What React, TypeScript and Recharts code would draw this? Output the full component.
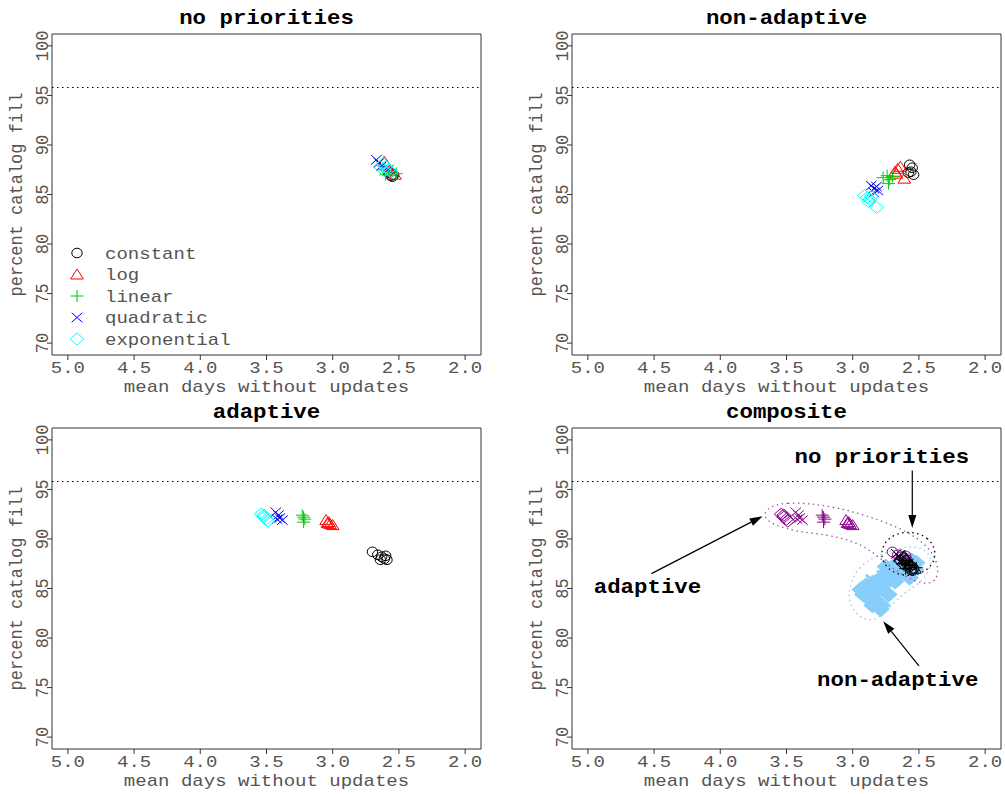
import React from 'react';
import { ScatterChart, Scatter, XAxis, YAxis, ReferenceLine, ReferenceArea } from 'recharts';

type Pt = { x: number; y: number };
type Kind = 'circle' | 'triangle' | 'plus' | 'cross' | 'diamond';

const xTicks = [5.0, 4.5, 4.0, 3.5, 3.0, 2.5, 2.0];
const yTicks = [70, 75, 80, 85, 90, 95, 100];
const xDomain = [1.88, 5.12];
const yDomain = [68.8, 101.2];
const targetFill = 95.8;

const seriesNames = ['constant', 'log', 'linear', 'quadratic', 'exponential'];
const seriesColors = ['#000000', '#FF0000', '#00CD00', '#0000FF', '#00FFFF'];
const seriesShapes: Kind[] = ['circle', 'triangle', 'plus', 'cross', 'diamond'];

// no priorities
const npConstant: Pt[] = [{ x: 2.55, y: 86.8 }, { x: 2.54, y: 87.0 }, { x: 2.57, y: 87.2 }, { x: 2.56, y: 86.9 }];
const npLog: Pt[] = [{ x: 2.61, y: 88.3 }, { x: 2.59, y: 87.9 }, { x: 2.53, y: 87.0 }, { x: 2.57, y: 87.4 }];
const npLinear: Pt[] = [{ x: 2.6, y: 87.0 }, { x: 2.52, y: 87.1 }, { x: 2.57, y: 87.3 }, { x: 2.62, y: 87.5 }];
const npQuadratic: Pt[] = [{ x: 2.67, y: 88.5 }, { x: 2.65, y: 88.2 }, { x: 2.63, y: 87.9 }, { x: 2.58, y: 87.5 }];
const npExponential: Pt[] = [
  { x: 2.62, y: 88.1 }, { x: 2.6, y: 87.8 }, { x: 2.58, y: 87.5 }, { x: 2.56, y: 87.3 }, { x: 2.61, y: 87.4 }, { x: 2.64, y: 87.8 },
];

// non-adaptive
const naConstant: Pt[] = [{ x: 2.57, y: 88.0 }, { x: 2.55, y: 87.7 }, { x: 2.56, y: 87.3 }, { x: 2.54, y: 87.0 }, { x: 2.58, y: 87.2 }];
const naLog: Pt[] = [{ x: 2.68, y: 87.3 }, { x: 2.66, y: 87.6 }, { x: 2.64, y: 87.8 }, { x: 2.67, y: 87.1 }, { x: 2.61, y: 86.6 }];
const naLinear: Pt[] = [{ x: 2.77, y: 86.7 }, { x: 2.74, y: 86.9 }, { x: 2.72, y: 86.5 }, { x: 2.73, y: 86.1 }, { x: 2.7, y: 86.8 }];
const naQuadratic: Pt[] = [{ x: 2.86, y: 85.9 }, { x: 2.84, y: 85.6 }, { x: 2.82, y: 85.8 }, { x: 2.84, y: 85.2 }, { x: 2.81, y: 85.4 }];
const naExponential: Pt[] = [
  { x: 2.91, y: 84.9 }, { x: 2.89, y: 84.7 }, { x: 2.87, y: 84.5 }, { x: 2.86, y: 84.8 }, { x: 2.88, y: 84.3 }, { x: 2.82, y: 83.7 },
];

// adaptive
const adConstant: Pt[] = [
  { x: 2.7, y: 88.7 }, { x: 2.66, y: 88.4 }, { x: 2.63, y: 88.2 }, { x: 2.61, y: 88.0 }, { x: 2.59, y: 87.9 }, { x: 2.64, y: 87.9 }, { x: 2.6, y: 88.3 },
];
const adLog: Pt[] = [{ x: 3.05, y: 91.9 }, { x: 3.03, y: 91.7 }, { x: 3.02, y: 91.5 }, { x: 3.0, y: 91.4 }, { x: 3.04, y: 91.6 }];
const adLinear: Pt[] = [{ x: 3.23, y: 92.4 }, { x: 3.22, y: 92.2 }, { x: 3.21, y: 92.0 }, { x: 3.22, y: 91.7 }];
const adQuadratic: Pt[] = [{ x: 3.43, y: 92.7 }, { x: 3.41, y: 92.4 }, { x: 3.4, y: 92.1 }, { x: 3.38, y: 91.9 }, { x: 3.42, y: 92.0 }];
const adExponential: Pt[] = [{ x: 3.54, y: 92.5 }, { x: 3.52, y: 92.2 }, { x: 3.5, y: 92.0 }, { x: 3.49, y: 91.8 }, { x: 3.52, y: 92.4 }];

const noPriorities = [npConstant, npLog, npLinear, npQuadratic, npExponential];
const nonAdaptive = [naConstant, naLog, naLinear, naQuadratic, naExponential];
const adaptive = [adConstant, adLog, adLinear, adQuadratic, adExponential];

// composite: extra non-adaptive runs forming the light blue cloud
const naCloud: Pt[] = [
  { x: 2.68, y: 87.4 }, { x: 2.6, y: 87.7 }, { x: 2.53, y: 86.9 }, { x: 2.57, y: 86.1 }, { x: 2.64, y: 86.4 },
  { x: 2.72, y: 86.7 }, { x: 2.78, y: 86.1 }, { x: 2.83, y: 85.6 }, { x: 2.76, y: 85.4 }, { x: 2.68, y: 85.7 },
  { x: 2.87, y: 84.9 }, { x: 2.81, y: 84.7 }, { x: 2.88, y: 84.0 }, { x: 2.83, y: 83.8 }, { x: 2.78, y: 83.3 },
  { x: 2.79, y: 82.9 }, { x: 2.73, y: 84.4 }, { x: 2.92, y: 84.4 }, { x: 2.9, y: 85.3 }, { x: 2.52, y: 87.6 },
  { x: 2.75, y: 87.2 }, { x: 2.94, y: 84.9 }, { x: 2.85, y: 83.3 },
];

const adaptiveHull: Pt[] = [
  { x: 3.66, y: 93.0 }, { x: 3.53, y: 93.8 }, { x: 3.15, y: 93.4 }, { x: 2.76, y: 91.8 }, { x: 2.49, y: 90.1 },
  { x: 2.36, y: 88.0 }, { x: 2.35, y: 86.0 }, { x: 2.43, y: 85.4 }, { x: 2.53, y: 85.7 }, { x: 2.71, y: 87.0 },
  { x: 2.9, y: 89.4 }, { x: 3.16, y: 90.4 }, { x: 3.41, y: 90.7 }, { x: 3.6, y: 91.4 }, { x: 3.67, y: 92.2 },
];
const noPrioritiesHull: Pt[] = [
  { x: 2.36, y: 88.5 }, { x: 2.42, y: 90.2 }, { x: 2.58, y: 90.9 }, { x: 2.74, y: 90.2 },
  { x: 2.8, y: 88.5 }, { x: 2.74, y: 86.8 }, { x: 2.58, y: 86.1 }, { x: 2.42, y: 86.8 },
];
const nonAdaptiveHull: Pt[] = [
  { x: 3.03, y: 84.9 }, { x: 2.97, y: 87.2 }, { x: 2.78, y: 88.6 }, { x: 2.5, y: 89.6 }, { x: 2.38, y: 88.0 },
  { x: 2.46, y: 85.7 }, { x: 2.62, y: 84.6 }, { x: 2.75, y: 82.6 }, { x: 2.85, y: 81.6 }, { x: 2.97, y: 82.2 }, { x: 3.03, y: 83.7 },
];

const adaptiveArrow = [{ x: 4.52, y: 86.5 }, { x: 3.68, y: 92.3 }];
const noPrioritiesArrow = [{ x: 2.55, y: 96.9 }, { x: 2.55, y: 91.1 }];
const nonAdaptiveArrow = [{ x: 2.5, y: 77.2 }, { x: 2.77, y: 81.7 }];

const compositeLabels = [
  { x: 2.78, y: 97.7, label: 'no priorities' },
  { x: 4.55, y: 84.5, label: 'adaptive' },
  { x: 2.66, y: 75.2, label: 'non-adaptive' },
];

const MONO = "'Liberation Mono', 'Courier New', 'DejaVu Sans Mono', monospace";
const SX = 1.12;
const GRAY = '#555555';
const W = 485;
const H = 400;
const PURPLE = '#8B008B';
const SKY = '#87CEFA';

function Marker({ kind, cx, cy, color, filled, k = 1 }: { kind: Kind; cx: number; cy: number; color: string; filled?: boolean; k?: number }) {
  const fill = filled ? color : 'none';
  switch (kind) {
    case 'circle':
      return <ellipse cx={cx} cy={cy} rx={5.2 * k} ry={4.8 * k} fill={fill} stroke={color} strokeWidth={1} />;
    case 'triangle':
      return (
        <polygon
          points={`${cx},${cy - 5.5 * k} ${cx + 6.3 * k},${cy + 4.5 * k} ${cx - 6.3 * k},${cy + 4.5 * k}`}
          fill={fill}
          stroke={color}
          strokeWidth={1}
        />
      );
    case 'plus':
      return <path d={`M${cx - 6.5},${cy}H${cx + 6.5}M${cx},${cy - 6}V${cy + 6}`} stroke={color} strokeWidth={filled ? 3 : 1} fill="none" />;
    case 'cross':
      return (
        <path
          d={`M${cx - 5.3},${cy - 4.7}L${cx + 5.3},${cy + 4.7}M${cx - 5.3},${cy + 4.7}L${cx + 5.3},${cy - 4.7}`}
          stroke={color}
          strokeWidth={filled ? 3 : 1}
          fill="none"
        />
      );
    default:
      return (
        <polygon
          points={`${cx},${cy - 6 * k} ${cx + 7 * k},${cy} ${cx},${cy + 6 * k} ${cx - 7 * k},${cy}`}
          fill={fill}
          stroke={color}
          strokeWidth={1}
        />
      );
  }
}

const XTick = (p: any) => (
  <text transform={`translate(${p.x},${p.y + 11}) scale(${SX},1)`} textAnchor="middle" fontFamily={MONO} fontSize={17} fill={GRAY}>
    {Number(p.payload.value).toFixed(1)}
  </text>
);

const YTick = (p: any) => (
  <text transform={`translate(${p.x + 3},${p.y}) scale(${SX},1) rotate(-90)`} textAnchor="middle" fontFamily={MONO} fontSize={17} fill={GRAY}>
    {p.payload.value}
  </text>
);

const XLabel = (p: any) => {
  const vb = p.viewBox;
  return (
    <text transform={`translate(${vb.x + vb.width / 2},${vb.y + 37}) scale(${SX},1)`} textAnchor="middle" fontFamily={MONO} fontSize={17} fill={GRAY}>
      mean days without updates
    </text>
  );
};

const YLabel = (p: any) => {
  const vb = p.viewBox;
  return (
    <text transform={`translate(22,${vb.y + vb.height / 2}) scale(${SX},1) rotate(-90)`} textAnchor="middle" fontFamily={MONO} fontSize={17} fill={GRAY}>
      percent catalog fill
    </text>
  );
};

const Arrow = (p: any) => {
  const { x1, y1, x2, y2 } = p;
  const a = Math.atan2(y2 - y1, x2 - x1);
  const L = 13;
  const hw = 4;
  const bx = x2 - L * Math.cos(a);
  const by = y2 - L * Math.sin(a);
  const nx = -Math.sin(a) * hw;
  const ny = Math.cos(a) * hw;
  return (
    <g>
      <line x1={x1} y1={y1} x2={bx} y2={by} stroke="#000" strokeWidth={1.2} />
      <polygon points={`${x2},${y2} ${bx + nx},${by + ny} ${bx - nx},${by - ny}`} fill="#000" />
    </g>
  );
};

const AnnotText = (p: any) => (
  <text transform={`translate(${p.cx},${p.cy}) scale(${SX},1)`} textAnchor="middle" fontFamily={MONO} fontWeight="bold" fontSize={20} fill="#000">
    {p.payload.label}
  </text>
);

function seriesScatter(key: string, data: Pt[], i: number, color?: string, filled?: boolean, k?: number) {
  return (
    <Scatter
      key={key}
      data={data}
      isAnimationActive={false}
      shape={(p: any) => <Marker kind={seriesShapes[i]} cx={p.cx} cy={p.cy} color={color ?? seriesColors[i]} filled={filled} k={k} />}
    />
  );
}

function hull(key: string, data: Pt[], color: string) {
  return (
    <Scatter
      key={key}
      data={data}
      isAnimationActive={false}
      shape={() => <g />}
      line={{ stroke: color, strokeDasharray: '1.5 3.5', strokeWidth: 1.3 }}
      lineJointType="basisClosed"
    />
  );
}

function Panel({ title, left, top, legend, children }: { title: string; left: number; top: number; legend?: boolean; children: React.ReactNode }) {
  return (
    <div style={{ position: 'absolute', left, top, width: W, height: H }}>
      <ScatterChart width={W} height={H} margin={{ top: 34, right: 4, bottom: 6, left: 0 }}>
        <XAxis
          type="number"
          dataKey="x"
          domain={xDomain}
          reversed
          allowDataOverflow
          ticks={xTicks}
          interval={0}
          height={39}
          tickSize={5}
          axisLine={false}
          tickLine={{ stroke: '#333' }}
          tick={XTick}
          label={XLabel}
        />
        <YAxis
          type="number"
          dataKey="y"
          domain={yDomain}
          allowDataOverflow
          ticks={yTicks}
          interval={0}
          width={52}
          tickSize={5}
          axisLine={false}
          tickLine={{ stroke: '#333' }}
          tick={YTick}
          label={YLabel}
        />
        <ReferenceArea x1={xDomain[0]} x2={xDomain[1]} y1={yDomain[0]} y2={yDomain[1]} fill="none" stroke="#333" strokeWidth={1} ifOverflow="visible" />
        <ReferenceLine y={targetFill} stroke="#000" strokeDasharray="1.5 3.5" strokeWidth={1.2} />
        {children}
      </ScatterChart>
      <svg width={W} height={H} style={{ position: 'absolute', left: 0, top: 0, pointerEvents: 'none' }}>
        <text transform={`translate(266.5,24) scale(${SX},1)`} textAnchor="middle" fontFamily={MONO} fontWeight="bold" fontSize={20} fill="#000">
          {title}
        </text>
        {legend &&
          seriesNames.map((name, i) => (
            <g key={name}>
              <Marker kind={seriesShapes[i]} cx={77} cy={253 + i * 21.5} color={seriesColors[i]} />
              <text transform={`translate(105,${253 + i * 21.5 + 5.5}) scale(${SX},1)`} fontFamily={MONO} fontSize={17} fill={GRAY}>
                {name}
              </text>
            </g>
          ))}
      </svg>
    </div>
  );
}

export default function App() {
  return (
    <div style={{ position: 'absolute', left: 0, top: 0, width: 1005, height: 794, background: '#fff', overflow: 'hidden' }}>
      <Panel title="no priorities" left={0} top={0} legend>
        {noPriorities.map((d, i) => seriesScatter(`np${i}`, d, i))}
      </Panel>
      <Panel title="non-adaptive" left={520} top={0}>
        {nonAdaptive.map((d, i) => seriesScatter(`na${i}`, d, i))}
      </Panel>
      <Panel title="adaptive" left={0} top={394}>
        {adaptive.map((d, i) => seriesScatter(`ad${i}`, d, i))}
      </Panel>
      <Panel title="composite" left={520} top={394}>
        {seriesScatter('cloud', naCloud, 4, SKY, true, 1.25)}
        {nonAdaptive.map((d, i) => seriesScatter(`cna${i}`, d, i, SKY, true, 1.2))}
        {hull('hullNa', nonAdaptiveHull, SKY)}
        {hull('hullAd', adaptiveHull, '#B04CB0')}
        {hull('hullNp', noPrioritiesHull, '#000')}
        {adaptive.map((d, i) => seriesScatter(`cad${i}`, d, i, PURPLE))}
        {noPriorities.map((d, i) => seriesScatter(`cnp${i}`, d, i, '#000'))}
        <ReferenceLine segment={adaptiveArrow} shape={Arrow} ifOverflow="visible" />
        <ReferenceLine segment={noPrioritiesArrow} shape={Arrow} ifOverflow="visible" />
        <ReferenceLine segment={nonAdaptiveArrow} shape={Arrow} ifOverflow="visible" />
        <Scatter data={compositeLabels} isAnimationActive={false} shape={AnnotText} />
      </Panel>
    </div>
  );
}
